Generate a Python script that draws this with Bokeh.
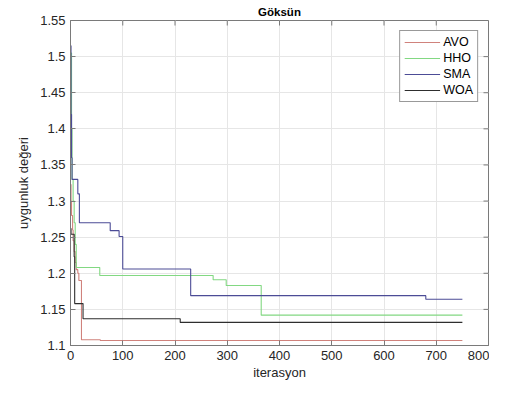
from bokeh.plotting import figure
from bokeh.models import Legend, LegendItem, FixedTicker, Range1d
from bokeh.embed import file_html
from bokeh.resources import INLINE

# --- data ---
avo_iter = [0, 1, 2, 4, 5, 7, 9, 11, 14, 16, 21, 57, 750]
avo_val = [1.323, 1.30, 1.28, 1.26, 1.245, 1.23, 1.215, 1.205, 1.200, 1.190, 1.108, 1.107, 1.107]

hho_iter = [0, 2, 3, 5, 7, 9, 11, 56, 273, 298, 365, 750]
hho_val = [1.505, 1.40, 1.33, 1.30, 1.27, 1.24, 1.208, 1.197, 1.191, 1.183, 1.142, 1.142]

sma_iter = [0, 1, 2, 3, 14, 17, 76, 93, 100, 230, 680, 750]
sma_val = [1.515, 1.42, 1.36, 1.33, 1.31, 1.270, 1.259, 1.251, 1.206, 1.169, 1.164, 1.164]

woa_iter = [0, 1, 7, 8, 24, 210, 750]
woa_val = [1.262, 1.254, 1.223, 1.158, 1.137, 1.132, 1.132]

series_names = ["AVO", "HHO", "SMA", "WOA"]
series_colors = ["#d0827c", "#82d882", "#4c4c96", "#2e2e2e"]

x_ticks = [0, 100, 200, 300, 400, 500, 600, 700, 800]
y_ticks = [1.1, 1.15, 1.2, 1.25, 1.3, 1.35, 1.4, 1.45, 1.5, 1.55]
y_tick_labels = {1.1: "1.1", 1.15: "1.15", 1.2: "1.2", 1.25: "1.25", 1.3: "1.3",
                 1.35: "1.35", 1.4: "1.4", 1.45: "1.45", 1.5: "1.5", 1.55: "1.55"}

X_MIN, X_MAX = 0, 800
Y_MIN, Y_MAX = 1.1, 1.55

FONT = "Liberation Sans"
AXC = "#7a7a7a"
TXT = "#262626"

p = figure(width=489, height=382, output_backend="svg", toolbar_location=None,
           x_range=Range1d(X_MIN, X_MAX), y_range=Range1d(Y_MIN, Y_MAX),
           title="Göksün", min_border_left=70, min_border_right=1,
           min_border_top=20, min_border_bottom=30)

p.title.align = "center"
p.title.vertical_align = "middle"
p.title.text_font = FONT
p.title.text_font_size = "11.5px"
p.title.text_font_style = "bold"
p.title.text_color = "#000000"
p.title.standoff = 4
p.title.offset = 0

p.background_fill_color = "white"
p.border_fill_color = "white"
p.outline_line_color = AXC
p.outline_line_width = 1

for ax in (p.xaxis[0], p.yaxis[0]):
    ax.major_tick_in = 5
    ax.major_tick_out = 0
    ax.minor_tick_line_color = None
    ax.axis_line_color = AXC
    ax.major_tick_line_color = AXC
    ax.major_label_text_font = FONT
    ax.major_label_text_font_size = "13px"
    ax.major_label_text_color = TXT
    ax.axis_label_text_font = FONT
    ax.axis_label_text_font_size = "13px"
    ax.axis_label_text_font_style = "normal"
    ax.axis_label_text_color = TXT

p.xaxis[0].ticker = FixedTicker(ticks=x_ticks)
p.yaxis[0].ticker = FixedTicker(ticks=y_ticks)
p.yaxis[0].major_label_overrides = y_tick_labels
p.xaxis[0].axis_label = "iterasyon"
p.yaxis[0].axis_label = "uygunluk değeri"
p.xaxis[0].major_label_standoff = 5
p.xaxis[0].axis_label_standoff = 2
p.yaxis[0].major_label_standoff = 5
p.yaxis[0].axis_label_standoff = 6

p.xgrid.ticker = FixedTicker(ticks=x_ticks)
p.ygrid.ticker = FixedTicker(ticks=y_ticks)
p.xgrid.grid_line_color = "#e6e6e6"
p.ygrid.grid_line_color = "#e6e6e6"

# mirrored inward tick marks on the top and right edges (derived from tick lists)
tick_dx = (X_MAX - X_MIN) * 5.0 / 418.0
tick_dy = (Y_MAX - Y_MIN) * 5.0 / 325.0
p.segment(x0=x_ticks, x1=x_ticks, y0=[Y_MAX] * len(x_ticks), y1=[Y_MAX - tick_dy] * len(x_ticks),
          line_color=AXC, line_width=1)
p.segment(x0=[X_MAX] * len(y_ticks), x1=[X_MAX - tick_dx] * len(y_ticks), y0=y_ticks, y1=y_ticks,
          line_color=AXC, line_width=1)

data = [(avo_iter, avo_val), (hho_iter, hho_val), (sma_iter, sma_val), (woa_iter, woa_val)]
items = []
for (xs, ys), name, col in zip(data, series_names, series_colors):
    r = p.step(xs, ys, mode="after", line_color=col, line_width=1.1)
    items.append(LegendItem(label=name, renderers=[r]))

legend = Legend(items=items, location="top_right", margin=10,
                label_text_font=FONT, label_text_font_size="12.5px", label_text_color="#000000",
                glyph_width=36, glyph_height=14, label_height=14, label_standoff=3,
                spacing=2, padding=4, border_line_color="#333333", border_line_width=1,
                background_fill_color="white", background_fill_alpha=1.0)
p.add_layout(legend, "center")

open("out.html", "w").write(file_html(p, INLINE))
